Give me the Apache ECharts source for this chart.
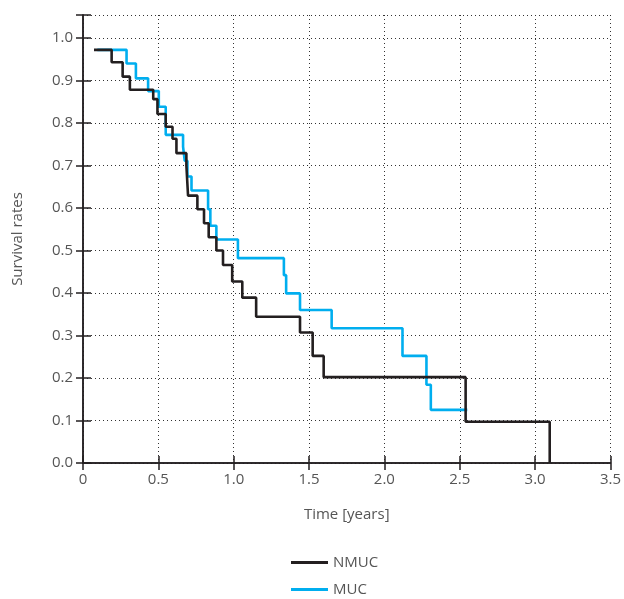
<!DOCTYPE html>
<html lang="en" style="height: 100%">
<head>
  <meta charset="utf-8">
  <title>Survival rates</title>
</head>
<body style="height: 100%; margin: 0; background: #fff;">
  <div id="container" style="width: 624px; height: 599px;"></div>

  <script src="https://cdn.jsdelivr.net/npm/echarts@6/dist/echarts.min.js"></script>
  <script type="text/javascript">
    const dom = document.getElementById('container');
    const myChart = echarts.init(dom);

    // Kaplan-Meier steps: time of event and survival after it
    const nmucTime = [0.073, 0.19, 0.263, 0.311, 0.466, 0.494, 0.549, 0.594, 0.62, 0.686, 0.697, 0.759, 0.803, 0.834, 0.885, 0.929, 0.99, 1.057, 1.149, 1.44, 1.524, 1.597, 2.539, 3.097];
    const nmucSurv = [0.972, 0.943, 0.909, 0.878, 0.856, 0.821, 0.791, 0.763, 0.729, 0.70, 0.629, 0.597, 0.564, 0.531, 0.50, 0.466, 0.427, 0.389, 0.344, 0.307, 0.252, 0.202, 0.097, 0];

    const mucTime = [0.095, 0.289, 0.351, 0.432, 0.503, 0.549, 0.664, 0.675, 0.693, 0.72, 0.83, 0.845, 0.885, 1.028, 1.333, 1.348, 1.44, 1.65, 2.12, 2.279, 2.308, 2.55];
    const mucSurv = [0.972, 0.94, 0.905, 0.875, 0.838, 0.772, 0.744, 0.711, 0.674, 0.641, 0.597, 0.558, 0.526, 0.482, 0.442, 0.399, 0.36, 0.317, 0.252, 0.184, 0.125, 0.125];

    const seriesNames = ['NMUC', 'MUC'];
    const seriesColors = ['#231f20', '#00aeef'];

    const font = '"Open Sans", "Noto Sans", sans-serif';
    const frame = '#231f20';
    const txt = '#555';

    function pairs(t, s) {
      return t.map((v, i) => [v, s[i]]);
    }

    function legendAt(name, top) {
      return {
        orient: 'vertical',
        left: 291,
        top: top,
        padding: 0,
        itemWidth: 37,
        itemHeight: 3,
        icon: 'rect',
        textStyle: { fontFamily: font, fontSize: 15, color: txt },
        data: [name]
      };
    }

    const gridLine = { show: true, lineStyle: { color: '#333', type: [1, 3], width: 1 } };

    const option = {
      animation: false,
      textStyle: { fontFamily: font },
      grid: { left: 83, right: 12, top: 15, bottom: 136 },
      legend: [legendAt(seriesNames[0], 555), legendAt(seriesNames[1], 582)],
      xAxis: [{
        type: 'value',
        min: 0, max: 3.5, interval: 0.5,
        name: 'Time [years]',
        nameLocation: 'middle',
        nameGap: 44,
        nameTextStyle: { fontFamily: font, fontSize: 15, color: txt },
        axisLine: { show: true, lineStyle: { color: frame, width: 1.5 } },
        axisTick: { show: true, inside: true, length: 7, lineStyle: { color: frame, width: 1.5 } },
        axisLabel: {
          fontSize: 15, color: txt, margin: 9,
          formatter: v => v === 0 ? '0' : v.toFixed(1)
        },
        splitLine: gridLine
      }, {
        type: 'value',
        position: 'top',
        min: 0, max: 3.5, interval: 0.5,
        axisLine: { show: true, lineStyle: { color: frame, width: 1.5 } },
        axisTick: { show: true, inside: true, length: 7, lineStyle: { color: frame, width: 1.5 } },
        axisLabel: { show: false },
        splitLine: { show: false }
      }],
      yAxis: [{
        type: 'value',
        min: 0, max: 1.054, interval: 0.1,
        name: 'Survival rates',
        nameLocation: 'middle',
        nameGap: 58,
        nameTextStyle: { fontFamily: font, fontSize: 15, color: txt },
        axisLine: { show: true, lineStyle: { color: frame, width: 1.5 } },
        axisTick: {
          show: true, inside: true, length: 8, lineStyle: { color: frame, width: 1.5 },
          interval: (i, v) => v <= 1.0001
        },
        axisLabel: {
          fontSize: 15, color: txt, margin: 10,
          formatter: v => v > 1.0001 ? '' : v.toFixed(1)
        },
        splitLine: gridLine
      }, {
        type: 'value',
        position: 'right',
        min: 0, max: 1.054, interval: 0.1,
        axisLine: { show: true, lineStyle: { color: frame, width: 1.5 } },
        axisTick: { show: true, inside: true, length: 7, lineStyle: { color: frame, width: 1.5 } },
        axisLabel: { show: false },
        splitLine: { show: false }
      }],
      series: [{
        name: seriesNames[0],
        type: 'line',
        step: 'end',
        z: 4,
        symbol: 'none',
        color: seriesColors[0],
        lineStyle: { width: 2.6, color: seriesColors[0] },
        data: pairs(nmucTime, nmucSurv)
      }, {
        name: seriesNames[1],
        type: 'line',
        step: 'end',
        z: 3,
        symbol: 'none',
        color: seriesColors[1],
        lineStyle: { width: 2.6, color: seriesColors[1] },
        data: pairs(mucTime, mucSurv)
      }]
    };

    myChart.setOption(option);
    window.addEventListener('resize', myChart.resize);
  </script>
</body>
</html>
